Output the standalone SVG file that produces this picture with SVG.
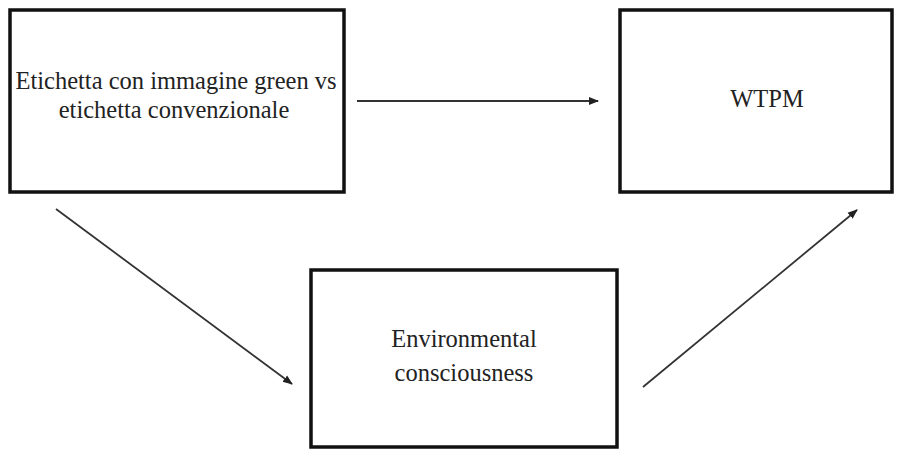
<svg xmlns="http://www.w3.org/2000/svg" width="903" height="450" viewBox="0 0 903 450">
<style>
.box{fill:#fff;stroke:#111;stroke-width:3.5}
.t{font-family:"Liberation Serif","Times New Roman",serif;font-size:24.5px;fill:#222;text-anchor:middle}
.c{stroke:#333;stroke-width:1.8;fill:none;marker-end:url(#ah)}
</style>
<defs>
<marker id="ah" markerUnits="userSpaceOnUse" markerWidth="10" markerHeight="10" refX="9" refY="5" orient="auto">
<path d="M0,1 L10,5 L0,9 Z" fill="#222"/>
</marker>
</defs>
<rect width="903" height="450" fill="#fff"/>
<g id="connectors">
<line class="c" x1="357" y1="101" x2="598" y2="101"/>
<line class="c" x1="56" y1="209" x2="292" y2="384"/>
<line class="c" x1="643" y1="387" x2="857" y2="210"/>
</g>
<g id="node-etichetta">
<rect class="box" x="10" y="10" width="334" height="182"/>
<text class="t" x="176" y="89">Etichetta con immagine green vs</text>
<text class="t" x="174" y="118">etichetta convenzionale</text>
</g>
<g id="node-wtpm">
<rect class="box" x="620" y="10" width="272" height="182"/>
<text class="t" x="767" y="107">WTPM</text>
</g>
<g id="node-env">
<rect class="box" x="311" y="270" width="306" height="177"/>
<text class="t" x="464" y="347">Environmental</text>
<text class="t" x="464" y="381">consciousness</text>
</g>
</svg>
